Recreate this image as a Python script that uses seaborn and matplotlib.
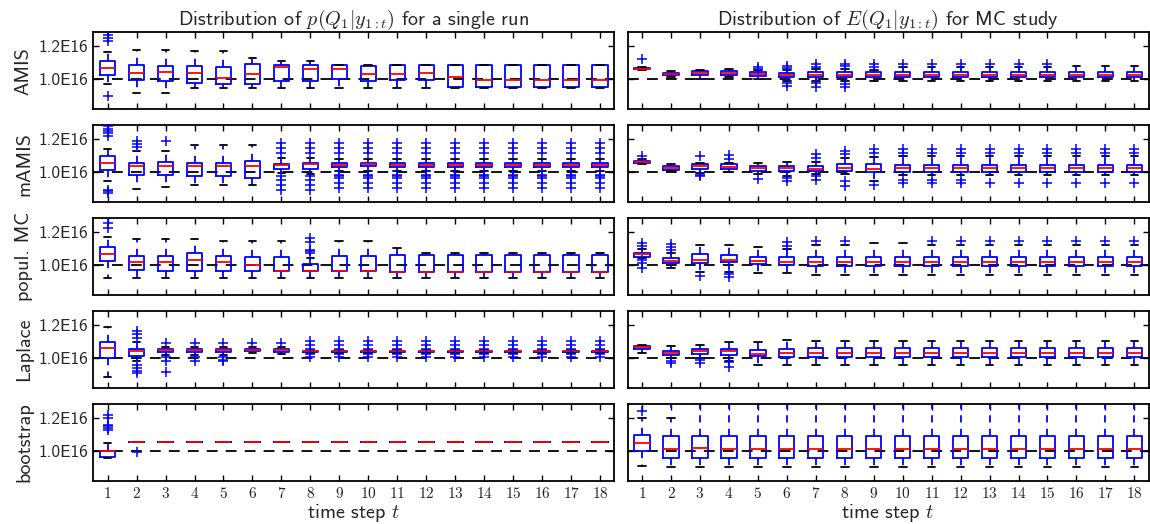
import pandas as pd
import matplotlib
matplotlib.use("Agg")
import matplotlib.pyplot as plt
import seaborn as sns

# ------------------------------------------
# DATA  (values in units of 1E16)
# each box: (lower whisker, q1, median, q3, upper whisker)
# ------------------------------------------
STEPS = list(range(1, 19))
ROW_NAMES = ["AMIS", "mAMIS", "popul. MC", "Laplace", "bootstrap"]
TRUE_VALUE = 1.0
YTICKS = [1.0, 1.2]
YTICK_LABELS = ["1.0E16", "1.2E16"]

amis_run = [
    (0.970, 1.026, 1.071, 1.113, 1.168), (0.915, 0.996, 1.038, 1.089, 1.175),
    (0.915, 0.990, 1.046, 1.079, 1.175), (0.947, 0.978, 1.040, 1.079, 1.174),
    (0.947, 0.974, 1.010, 1.073, 1.174), (0.947, 0.974, 1.034, 1.091, 1.129),
    (0.947, 0.990, 1.073, 1.089, 1.109), (0.947, 0.990, 1.065, 1.089, 1.109),
    (0.947, 1.000, 1.065, 1.089, 1.089), (0.947, 0.990, 1.034, 1.079, 1.089),
    (0.947, 0.996, 1.034, 1.089, 1.089), (0.947, 0.996, 1.038, 1.089, 1.089),
    (0.947, 0.955, 1.016, 1.089, 1.089), (0.947, 0.955, 0.996, 1.089, 1.089),
    (0.947, 0.955, 0.996, 1.089, 1.089), (0.947, 0.955, 0.996, 1.089, 1.089),
    (0.947, 0.955, 0.996, 1.089, 1.089), (0.947, 0.955, 0.996, 1.089, 1.089),
]
amis_run_out = [[1.270, 1.250, 1.235, 0.900]] + [[] for _ in range(17)]

amis_mc = [
    (1.057, 1.061, 1.065, 1.068, 1.073), (1.016, 1.024, 1.032, 1.038, 1.048),
    (1.002, 1.026, 1.038, 1.048, 1.059), (1.012, 1.026, 1.038, 1.048, 1.063),
    (1.000, 1.018, 1.030, 1.042, 1.055), (0.990, 1.012, 1.026, 1.038, 1.055),
    (0.990, 1.012, 1.026, 1.042, 1.060), (0.990, 1.012, 1.026, 1.042, 1.065),
    (0.990, 1.012, 1.028, 1.042, 1.057), (0.990, 1.012, 1.028, 1.042, 1.075),
    (0.990, 1.012, 1.028, 1.042, 1.075), (0.990, 1.012, 1.028, 1.042, 1.075),
    (0.988, 1.012, 1.028, 1.042, 1.073), (0.988, 1.012, 1.028, 1.042, 1.073),
    (0.988, 1.012, 1.028, 1.042, 1.073), (0.988, 1.012, 1.028, 1.042, 1.080),
    (0.988, 1.012, 1.028, 1.042, 1.080), (0.988, 1.012, 1.028, 1.042, 1.080),
]
amis_mc_out = [
    [1.123], [], [], [], [1.063, 1.073], [1.067, 1.078, 0.975, 0.960],
    [1.075, 1.090, 0.975, 0.955], [1.080, 1.095, 0.970, 0.955], [1.075, 1.093],
    [1.093], [1.093], [1.093], [1.093], [1.093], [1.093], [], [], [],
]

mamis_run = [
    (0.950, 1.016, 1.057, 1.098, 1.140), (0.898, 0.986, 1.037, 1.057, 1.128),
    (0.910, 0.986, 1.037, 1.063, 1.128), (0.920, 0.976, 1.037, 1.057, 1.165),
    (0.920, 0.976, 1.037, 1.057, 1.165), (0.920, 0.965, 1.037, 1.067, 1.165),
    (0.995, 1.022, 1.041, 1.053, 1.087), (0.990, 1.020, 1.047, 1.057, 1.087),
    (1.010, 1.033, 1.043, 1.055, 1.080), (1.010, 1.035, 1.048, 1.057, 1.080),
    (1.010, 1.033, 1.045, 1.055, 1.080), (1.010, 1.033, 1.043, 1.055, 1.080),
    (1.010, 1.033, 1.045, 1.055, 1.080), (1.010, 1.033, 1.045, 1.055, 1.080),
    (1.010, 1.033, 1.045, 1.055, 1.080), (1.010, 1.033, 1.045, 1.055, 1.080),
    (1.010, 1.033, 1.045, 1.055, 1.080), (1.010, 1.033, 1.045, 1.055, 1.080),
]
mamis_run_out = [
    [1.280, 1.265, 1.250, 1.235, 1.220, 0.895, 0.885, 0.875],
    [1.150, 1.170, 1.190], [1.190], [], [], [],
    [1.118, 1.148, 1.179, 0.976, 0.955, 0.925, 0.894],
    [1.118, 1.148, 1.179, 0.976, 0.955, 0.925, 0.894],
    [1.118, 1.148, 1.179, 0.985, 0.975, 0.965, 0.935, 0.904],
    [1.118, 1.148, 1.179, 0.985, 0.975, 0.965, 0.935, 0.904],
    [1.118, 1.148, 1.179, 0.985, 0.975, 0.965, 0.935, 0.904],
    [1.118, 1.148, 1.179, 0.985, 0.975, 0.965, 0.935, 0.904],
    [1.118, 1.148, 1.179, 0.985, 0.975, 0.965, 0.935, 0.904],
    [1.118, 1.148, 1.179, 0.985, 0.975, 0.965, 0.935, 0.904],
    [1.118, 1.148, 1.179, 0.985, 0.975, 0.965, 0.935, 0.904],
    [1.118, 1.148, 1.179, 0.985, 0.975, 0.965, 0.935, 0.904],
    [1.118, 1.148, 1.179, 0.985, 0.975, 0.965, 0.935, 0.904],
    [1.118, 1.148, 1.179, 0.985, 0.975, 0.965, 0.935, 0.904],
]

mamis_mc = [
    (1.050, 1.057, 1.065, 1.071, 1.080), (1.006, 1.016, 1.028, 1.037, 1.051),
    (0.995, 1.022, 1.037, 1.047, 1.057), (1.000, 1.022, 1.033, 1.047, 1.057),
    (0.990, 1.006, 1.024, 1.037, 1.057), (0.980, 1.006, 1.024, 1.037, 1.063),
    (0.990, 1.006, 1.022, 1.037, 1.060), (0.990, 1.010, 1.024, 1.047, 1.087),
    (0.945, 1.000, 1.020, 1.047, 1.092), (0.985, 1.004, 1.025, 1.045, 1.097),
    (0.985, 1.004, 1.025, 1.045, 1.097), (0.985, 1.004, 1.025, 1.045, 1.097),
    (0.985, 1.004, 1.025, 1.045, 1.097), (0.985, 1.004, 1.025, 1.045, 1.097),
    (0.985, 1.004, 1.025, 1.045, 1.097), (0.985, 1.004, 1.025, 1.045, 1.097),
    (0.985, 1.004, 1.025, 1.045, 1.097), (0.985, 1.004, 1.025, 1.045, 1.097),
]
mamis_mc_out = [
    [1.098], [], [1.098, 0.986, 0.976], [1.080, 1.104], [0.960], [0.965, 0.945],
    [1.087, 1.108, 0.976, 0.955], [1.108, 1.128, 0.945, 0.915],
    [1.118, 1.142, 0.925], [1.118, 1.138, 0.955, 0.935],
    [1.118, 1.138, 0.955, 0.935], [1.118, 1.138, 0.955, 0.935],
    [1.118, 1.138, 0.935], [1.118, 1.138, 0.935], [1.118, 1.138, 0.935],
    [1.118, 1.138, 0.935], [1.118, 1.138, 0.935], [1.118, 1.138, 0.935],
]

popmc_run = [
    (0.923, 1.028, 1.069, 1.111, 1.170), (0.923, 0.968, 1.020, 1.055, 1.156),
    (0.923, 0.964, 1.018, 1.055, 1.156), (0.923, 0.964, 1.030, 1.075, 1.156),
    (0.923, 0.964, 1.020, 1.055, 1.145), (0.923, 0.964, 1.004, 1.050, 1.145),
    (0.923, 0.964, 0.964, 1.050, 1.145), (0.923, 0.964, 0.964, 1.010, 1.045),
    (0.923, 0.964, 0.964, 1.055, 1.145), (0.923, 0.964, 0.964, 1.055, 1.145),
    (0.923, 0.960, 0.960, 1.061, 1.101), (0.923, 0.960, 0.960, 1.061, 1.075),
    (0.923, 0.960, 0.960, 1.061, 1.075), (0.923, 0.960, 0.960, 1.061, 1.075),
    (0.923, 0.960, 0.960, 1.061, 1.075), (0.923, 0.960, 0.960, 1.061, 1.075),
    (0.923, 0.960, 0.960, 1.061, 1.075), (0.923, 0.960, 0.960, 1.061, 1.075),
]
popmc_run_out = [
    [1.226, 1.257], [], [], [], [], [], [],
    [1.075, 1.083, 1.090, 1.140, 1.165], [], [], [], [], [], [], [], [], [], [],
]

popmc_mc = [
    (1.045, 1.050, 1.065, 1.075, 1.095), (0.980, 1.014, 1.028, 1.044, 1.075),
    (0.958, 1.014, 1.032, 1.065, 1.121), (0.958, 1.018, 1.030, 1.061, 1.121),
    (0.950, 1.008, 1.024, 1.050, 1.111), (0.950, 1.004, 1.022, 1.050, 1.095),
    (0.943, 0.994, 1.020, 1.050, 1.125), (0.943, 0.994, 1.020, 1.050, 1.125),
    (0.943, 0.994, 1.020, 1.050, 1.135), (0.943, 0.994, 1.020, 1.050, 1.135),
    (0.943, 0.994, 1.020, 1.050, 1.125), (0.943, 0.994, 1.020, 1.050, 1.125),
    (0.943, 0.994, 1.020, 1.050, 1.125), (0.943, 0.994, 1.020, 1.050, 1.125),
    (0.943, 0.994, 1.020, 1.050, 1.125), (0.943, 0.994, 1.020, 1.050, 1.125),
    (0.943, 0.994, 1.020, 1.050, 1.125), (0.943, 0.994, 1.020, 1.050, 1.125),
]
popmc_mc_out = [
    [1.115, 1.135, 1.030, 1.014, 0.980], [1.090, 1.110, 1.130], [0.933],
    [0.945, 0.927], [], [1.119, 1.139], [1.145], [1.145], [], [],
    [1.145], [1.145], [1.145], [1.145], [1.145], [1.145], [1.145], [1.145],
]

laplace_run = [
    (0.884, 1.000, 1.059, 1.098, 1.190), (0.985, 1.010, 1.041, 1.055, 1.100),
    (1.020, 1.037, 1.047, 1.055, 1.065), (1.020, 1.037, 1.047, 1.055, 1.065),
    (1.020, 1.037, 1.047, 1.055, 1.065), (1.030, 1.040, 1.049, 1.055, 1.065),
    (1.025, 1.037, 1.047, 1.055, 1.065), (1.033, 1.036, 1.040, 1.044, 1.047),
    (1.033, 1.036, 1.040, 1.044, 1.047), (1.033, 1.036, 1.040, 1.044, 1.047),
    (1.033, 1.036, 1.040, 1.044, 1.047), (1.033, 1.036, 1.040, 1.044, 1.047),
    (1.033, 1.036, 1.040, 1.044, 1.047), (1.033, 1.036, 1.040, 1.044, 1.047),
    (1.033, 1.036, 1.040, 1.044, 1.047), (1.033, 1.036, 1.040, 1.044, 1.047),
    (1.033, 1.036, 1.040, 1.044, 1.047), (1.033, 1.036, 1.040, 1.044, 1.047),
]
laplace_run_out = [
    [], [1.163, 1.143, 1.122, 0.959, 0.939, 0.924, 0.908],
    [1.092, 1.005, 0.980, 0.918], [1.092, 1.005, 0.985], [1.092, 1.005, 0.990, 0.985],
    [1.092], [1.092],
    [1.105, 1.081, 1.055, 1.025, 1.006], [1.105, 1.081, 1.055, 1.025, 1.006],
    [1.105, 1.081, 1.055, 1.025, 1.006], [1.105, 1.081, 1.055, 1.025, 1.006],
    [1.105, 1.081, 1.055, 1.025, 1.006], [1.105, 1.081, 1.055, 1.025, 1.006],
    [1.105, 1.081, 1.055, 1.025, 1.006], [1.105, 1.081, 1.055, 1.025, 1.006],
    [1.105, 1.081, 1.055, 1.025, 1.006], [1.105, 1.081, 1.055, 1.025, 1.006],
    [1.105, 1.081, 1.055, 1.025, 1.006],
]

laplace_mc = [
    (1.030, 1.055, 1.065, 1.071, 1.081), (1.000, 1.018, 1.030, 1.044, 1.075),
    (1.000, 1.026, 1.042, 1.055, 1.080), (0.985, 1.020, 1.042, 1.055, 1.095),
    (0.960, 1.010, 1.026, 1.046, 1.095), (0.956, 1.006, 1.030, 1.055, 1.109),
    (0.960, 1.006, 1.028, 1.061, 1.101), (0.960, 1.006, 1.028, 1.061, 1.101),
    (0.960, 1.006, 1.028, 1.061, 1.101), (0.960, 1.006, 1.028, 1.061, 1.101),
    (0.960, 1.006, 1.028, 1.061, 1.101), (0.960, 1.006, 1.028, 1.061, 1.101),
    (0.960, 1.006, 1.028, 1.061, 1.101), (0.960, 1.006, 1.028, 1.061, 1.101),
    (0.960, 1.006, 1.028, 1.061, 1.101), (0.960, 1.006, 1.028, 1.061, 1.101),
    (0.960, 1.006, 1.028, 1.061, 1.101), (0.960, 1.006, 1.028, 1.061, 1.101),
]
laplace_mc_out = [
    [], [0.985, 0.970], [0.990, 0.970], [0.974, 0.945],
    [], [], [], [], [], [], [], [], [], [], [], [], [], [],
]

boot_run = [
    (0.955, 0.961, 1.000, 1.000, 1.051), (1.053, 1.053, 1.053, 1.053, 1.053),
    (1.053, 1.053, 1.053, 1.053, 1.053), (1.053, 1.053, 1.053, 1.053, 1.053),
    (1.053, 1.053, 1.053, 1.053, 1.053), (1.053, 1.053, 1.053, 1.053, 1.053),
    (1.053, 1.053, 1.053, 1.053, 1.053), (1.053, 1.053, 1.053, 1.053, 1.053),
    (1.053, 1.053, 1.053, 1.053, 1.053), (1.053, 1.053, 1.053, 1.053, 1.053),
    (1.053, 1.053, 1.053, 1.053, 1.053), (1.053, 1.053, 1.053, 1.053, 1.053),
    (1.053, 1.053, 1.053, 1.053, 1.053), (1.053, 1.053, 1.053, 1.053, 1.053),
    (1.053, 1.053, 1.053, 1.053, 1.053), (1.053, 1.053, 1.053, 1.053, 1.053),
    (1.053, 1.053, 1.053, 1.053, 1.053), (1.053, 1.053, 1.053, 1.053, 1.053),
]
boot_run_out = [[1.220, 1.200, 1.159, 1.149, 1.139, 1.129], [0.996]] + [[] for _ in range(16)]

boot_mc = [
    (0.908, 1.000, 1.051, 1.098, 1.200), (0.904, 0.959, 1.012, 1.092, 1.200),
    (0.904, 0.959, 1.016, 1.092, 1.450), (0.904, 0.959, 1.012, 1.092, 1.450),
    (0.904, 0.959, 1.012, 1.092, 1.450), (0.904, 0.959, 1.012, 1.092, 1.450),
    (0.904, 0.959, 1.012, 1.092, 1.450), (0.904, 0.959, 1.012, 1.092, 1.450),
    (0.904, 0.959, 1.012, 1.092, 1.450), (0.904, 0.959, 1.012, 1.092, 1.450),
    (0.904, 0.959, 1.012, 1.092, 1.450), (0.904, 0.959, 1.012, 1.092, 1.450),
    (0.904, 0.959, 1.012, 1.092, 1.450), (0.904, 0.959, 1.012, 1.092, 1.450),
    (0.904, 0.959, 1.012, 1.092, 1.450), (0.904, 0.959, 1.012, 1.092, 1.450),
    (0.904, 0.959, 1.012, 1.092, 1.450), (0.904, 0.959, 1.012, 1.092, 1.450),
]
boot_mc_out = [[1.245], [1.290]] + [[] for _ in range(16)]

PANELS = [
    [(amis_run, amis_run_out), (amis_mc, amis_mc_out)],
    [(mamis_run, mamis_run_out), (mamis_mc, mamis_mc_out)],
    [(popmc_run, popmc_run_out), (popmc_mc, popmc_mc_out)],
    [(laplace_run, laplace_run_out), (laplace_mc, laplace_mc_out)],
    [(boot_run, boot_run_out), (boot_mc, boot_mc_out)],
]


# ------------------------------------------
# HELPERS
# ------------------------------------------
def box_frame(stats):
    # five points per step -> quartiles / extremes land exactly on the values
    rows = []
    for step, five in zip(STEPS, stats):
        for v in five:
            rows.append({"step": step, "value": v})
    return pd.DataFrame(rows)


def draw_panel(ax, stats, fliers):
    ax.axhline(TRUE_VALUE, color="black", lw=1.3, ls=(0, (6, 4.5)), zorder=1)
    sns.boxplot(data=box_frame(stats), x="step", y="value", native_scale=True,
                whis=(0, 100), fill=False, color="blue", linecolor="blue",
                saturation=1, width=0.53, linewidth=1.3, showfliers=False,
                boxprops={"color": "blue"},
                medianprops={"color": "red"},
                capprops={"color": "black"},
                whiskerprops={"color": "blue", "linestyle": (0, (4, 3.5))},
                ax=ax)
    fx = [s for s, vals in zip(STEPS, fliers) for _ in vals]
    fy = [v for vals in fliers for v in vals]
    ax.plot(fx, fy, ls="none", marker="+", color="blue", ms=7, mew=1.1, zorder=3)
    ax.set_xlabel("")
    ax.set_ylabel("")


# ------------------------------------------
# FIGURE
# ------------------------------------------
sns.set_style("ticks")
plt.rcParams["font.family"] = ["cmss10", "DejaVu Sans"]
plt.rcParams["mathtext.fontset"] = "cm"
plt.rcParams["axes.unicode_minus"] = False
plt.rcParams["axes.edgecolor"] = "black"

fig, axes = plt.subplots(5, 2, figsize=(11.5, 5.24), dpi=100, sharex=True, sharey=True)
fig.subplots_adjust(left=0.081, right=0.999, top=0.939, bottom=0.082,
                    hspace=0.2, wspace=0.025)

for r, row in enumerate(PANELS):
    for c, (stats, fliers) in enumerate(row):
        ax = axes[r, c]
        draw_panel(ax, stats, fliers)
        ax.tick_params(direction="in", top=True, right=True, length=4.5, width=1,
                       color="black")
        ax.tick_params(axis="x", labelsize=11)
        ax.tick_params(axis="y", labelsize=12.5)
        for sp in ax.spines.values():
            sp.set_linewidth(1.3)
    axes[r, 0].set_ylabel(ROW_NAMES[r], fontsize=14.5)

ax = axes[-1, 0]
ax.set_xlim(0.5, 18.5)
ax.set_ylim(0.818, 1.287)
ax.set_xticks(STEPS)
ax.set_xticklabels([f"${s}$" for s in STEPS])
ax.set_yticks(YTICKS)
ax.set_yticklabels(YTICK_LABELS)

axes[0, 0].set_title(r"Distribution of $p(Q_1|y_{1:t})$ for a single run",
                     fontsize=14.5, pad=4)
axes[0, 1].set_title(r"Distribution of $E(Q_1|y_{1:t})$ for MC study",
                     fontsize=14.5, pad=4)
for c in range(2):
    axes[-1, c].set_xlabel("time step $t$", fontsize=14.5, labelpad=1)

fig.savefig("out.png", dpi=100)
